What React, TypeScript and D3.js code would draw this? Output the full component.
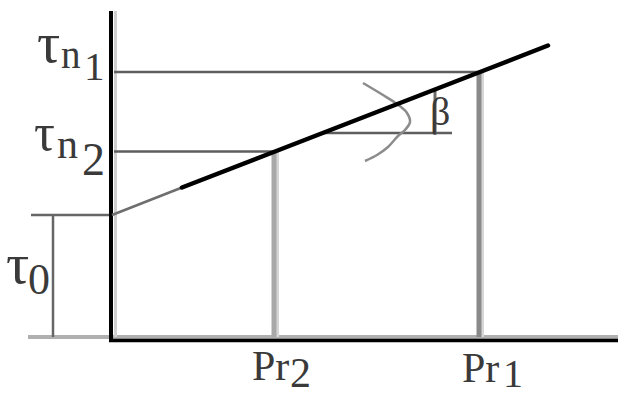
import React from "react";
import * as d3 from "d3";

// Diagram values (abstract units)
const tau0 = 2.48;
const prValues = [7.36, 3.26]; // Pr1, Pr2
const tauN = [5.34, 3.75]; // τn1, τn2
const prLabels = ["1", "2"];
const tauLabels = ["1", "2"];

// main line vertices: thin lead-in, then heavy segment
const thinPr = [0, 1.4];
const thinTau = [2.48, 3.03];
const thickPr = [1.4, 3.26, 7.36, 8.72];
const thickTau = [3.03, 3.75, 5.34, 5.87];

// slope-angle construction
const angleBase = { tau: 4.12, pr0: 4.22, pr1: 6.8 };
const angleTick = { pr: 6.46, tauTop: 4.99 };
const arcPr = [5.02, 5.42, 5.7, 5.9, 5.96, 5.86, 5.72, 5.52, 5.3, 5.06];
const arcTau = [5.12, 4.88, 4.7, 4.52, 4.34, 4.18, 4.06, 3.84, 3.68, 3.56];

const W = 618;
const H = 397;
const FONT = "Liberation Serif, Times New Roman, serif";
const TEXT = "#3a3a3a";

// label layout (pixel offsets from the anchored value)
const tauLayout = [
  { tx: 37, tdy: -10, tfs: 58, nx: 61, ndy: -4, nfs: 39, sx: 84, sdy: 8, sfs: 41 },
  { tx: 34, tdy: -2, tfs: 52, nx: 57, ndy: 6, nfs: 42, sx: 82, sdy: 23, sfs: 46 },
];
const prLayout = [
  { px: -18, pdy: 43, sx: 23, sdy: 48, sfs: 40 },
  { px: -23, pdy: 41, sx: 15, sdy: 48, sfs: 42 },
];

export default function App() {
  const x = d3.scaleLinear().domain([0, 10]).range([112, 612]);
  const y = d3.scaleLinear().domain([0, 6]).range([339, 39]);
  const line = d3
    .line<[number, number]>()
    .x((d) => x(d[0]))
    .y((d) => y(d[1]));
  const arcLine = d3
    .line<[number, number]>()
    .x((d) => x(d[0]))
    .y((d) => y(d[1]))
    .curve(d3.curveCatmullRom);

  const thin = thinPr.map((p, i) => [p, thinTau[i]] as [number, number]);
  const thick = thickPr.map((p, i) => [p, thickTau[i]] as [number, number]);
  const arc = arcPr.map((p, i) => [p, arcTau[i]] as [number, number]);

  return (
    <svg
      width={W}
      height={H}
      style={{ position: "absolute", left: 0, top: 0, background: "#fff" }}
    >
      {/* x axis: grey band with black rule */}
      <line x1={28} x2={W} y1={y(0) - 2} y2={y(0) - 2} stroke="#b0b0b0" strokeWidth={4} />
      <line x1={x(0) - 3} x2={W} y1={y(0) + 1.5} y2={y(0) + 1.5} stroke="#000" strokeWidth={3.5} />
      {/* y axis */}
      <line x1={x(0) + 3.5} x2={x(0) + 3.5} y1={11} y2={y(0) - 2} stroke="#cfcfcf" strokeWidth={3} />
      <line x1={x(0) - 1} x2={x(0) - 1} y1={11} y2={y(0) + 3} stroke="#000" strokeWidth={4} />

      {/* τ0 bracket */}
      <line x1={31} x2={x(0) - 3} y1={y(tau0)} y2={y(tau0)} stroke="#666" strokeWidth={2.5} />
      <line x1={53} x2={53} y1={y(tau0)} y2={y(0) - 2} stroke="#666" strokeWidth={2.5} />

      {/* reference lines for Pr1, Pr2 */}
      {prValues.map((p, i) => (
        <g key={i}>
          <line x1={x(0) + 2} x2={x(p)} y1={y(tauN[i])} y2={y(tauN[i])} stroke="#5e5e5e" strokeWidth={2.5} />
          <line x1={x(p) + 2.5} x2={x(p) + 2.5} y1={y(tauN[i])} y2={y(0) - 2} stroke="#d6d6d6" strokeWidth={3} />
          <line x1={x(p) - 1} x2={x(p) - 1} y1={y(tauN[i])} y2={y(0) - 2} stroke={i === 0 ? "#8a8a8a" : "#a8a8a8"} strokeWidth={5} />
        </g>
      ))}

      {/* slope angle construction */}
      <line
        x1={x(angleBase.pr0)}
        x2={x(angleBase.pr1)}
        y1={y(angleBase.tau)}
        y2={y(angleBase.tau)}
        stroke="#5e5e5e"
        strokeWidth={2.5}
      />
      <line
        x1={x(angleTick.pr)}
        x2={x(angleTick.pr)}
        y1={y(angleTick.tauTop)}
        y2={y(angleBase.tau) + 2}
        stroke="#6a6a6a"
        strokeWidth={3}
      />
      <path d={arcLine(arc) ?? ""} fill="none" stroke="#8c8c8c" strokeWidth={2.5} />

      {/* τ = τ0 + tanβ·Pr */}
      <path d={line(thin) ?? ""} fill="none" stroke="#6e6e6e" strokeWidth={2.5} />
      <path d={line(thick) ?? ""} fill="none" stroke="#000" strokeWidth={4.5} strokeLinecap="round" />

      {/* labels */}
      <g style={{ fontFamily: FONT }} fill={TEXT}>
        <text x={x(angleTick.pr) - 5} y={y(angleBase.tau) - 8} fontSize={40}>β</text>

        {tauN.map((t, i) => {
          const L = tauLayout[i];
          return (
            <g key={i}>
              <text x={L.tx} y={y(t) + L.tdy} fontSize={L.tfs}>τ</text>
              <text x={L.nx} y={y(t) + L.ndy} fontSize={L.nfs}>n</text>
              <text x={L.sx} y={y(t) + L.sdy} fontSize={L.sfs}>{tauLabels[i]}</text>
            </g>
          );
        })}

        <text x={6} y={y(tau0) + 68} fontSize={58}>τ</text>
        <text x={28} y={y(tau0) + 79} fontSize={44}>0</text>

        {prValues.map((p, i) => {
          const L = prLayout[i];
          return (
            <g key={i}>
              <text x={x(p) + L.px} y={y(0) + L.pdy} fontSize={42}>Pr</text>
              <text x={x(p) + L.sx} y={y(0) + L.sdy} fontSize={L.sfs}>{prLabels[i]}</text>
            </g>
          );
        })}
      </g>
    </svg>
  );
}
